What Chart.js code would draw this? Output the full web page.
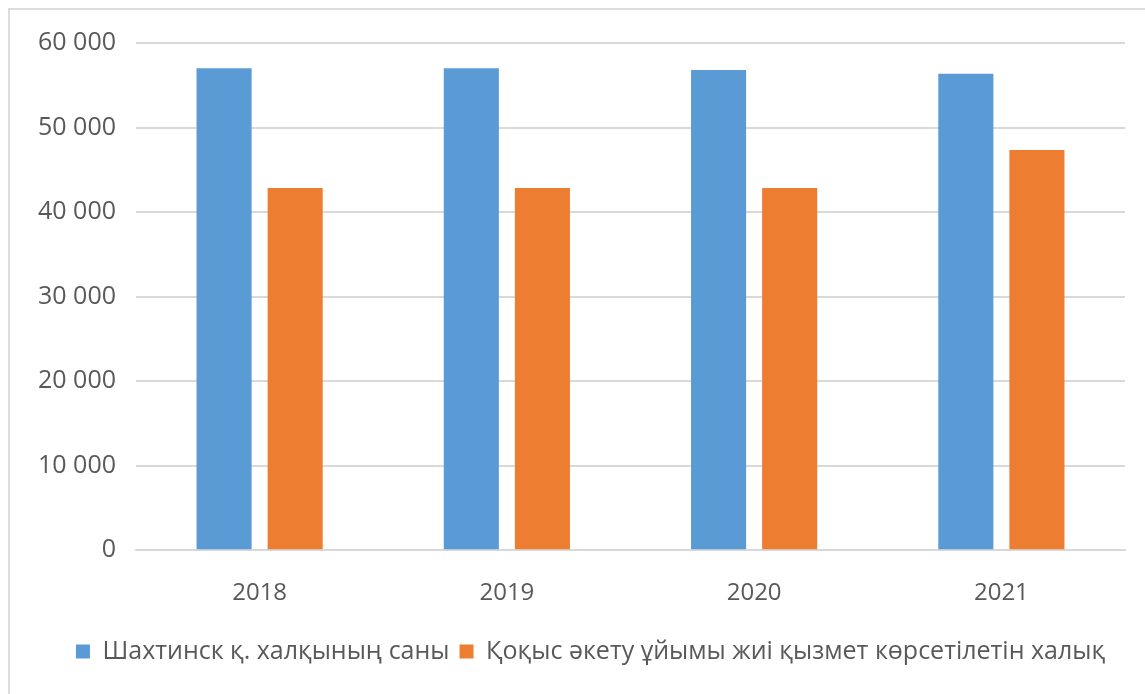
<!DOCTYPE html>
<html>
<head>
<meta charset="utf-8">
<script src="https://cdn.jsdelivr.net/npm/chart.js@4"></script>
<style>
  html, body { margin: 0; padding: 0; background: #fff; }
  #wrap { position: relative; width: 1145px; height: 694px; }
  #frame { position: absolute; left: 8px; top: 8px; right: 0; bottom: 0;
           border-left: 2px solid #dcdcdc; border-top: 2px solid #dcdcdc; }
  canvas { position: absolute; left: 0; top: 0; }
</style>
</head>
<body>
<div id="wrap">
  <div id="frame"></div>
  <canvas id="barChart" width="1145" height="694"></canvas>
</div>
<script>
var years = ['2018', '2019', '2020', '2021'];
var halyk = [57000, 57000, 56800, 56350];
var kyzmet = [42850, 42850, 42850, 47350];
var seriesNames = ['Шахтинск қ. халқының саны', 'Қоқыс әкету ұйымы жиі қызмет көрсетілетін халық'];

var fontFamily = "'Open Sans', 'Noto Sans', sans-serif";

// legend sits a bit right of the canvas centre in the original
var shiftLegend = {
  id: 'shiftLegend',
  afterLayout: function (chart) {
    chart.legend.left += 28;
    chart.legend.right += 28;
  }
};

var contextoBarra = document.getElementById('barChart');
var graficoBarra = new Chart(contextoBarra, {
  type: 'bar',
  data: {
    labels: years,
    datasets: [{
      label: seriesNames[0],
      data: halyk,
      backgroundColor: '#5B9BD5',
      categoryPercentage: 0.575,
      barPercentage: 0.775
    }, {
      label: seriesNames[1],
      data: kyzmet,
      backgroundColor: '#ED7D31',
      categoryPercentage: 0.575,
      barPercentage: 0.775
    }]
  },
  options: {
    responsive: false,
    animation: false,
    layout: {
      padding: { left: 0, right: 20, top: 43, bottom: 20 }
    },
    scales: {
      x: {
        grid: { display: false },
        border: { color: '#d9d9d9', width: 2 },
        ticks: { color: '#595959', padding: 21, font: { family: fontFamily, size: 24 } }
      },
      y: {
        min: 0,
        max: 60000,
        border: { display: false },
        grid: { color: '#d9d9d9', lineWidth: 2, drawTicks: false },
        afterFit: function (scale) { scale.width = 136; },
        ticks: {
          stepSize: 10000,
          padding: 20,
          color: '#595959',
          font: { family: fontFamily, size: 25 },
          callback: function (v) {
            return String(v).replace(/\B(?=(\d{3})+(?!\d))/g, ' ');
          }
        }
      }
    },
    plugins: {
      tooltip: { enabled: false },
      legend: {
        position: 'bottom',
        labels: {
          boxWidth: 14,
          boxHeight: 14,
          padding: 10,
          color: '#595959',
          font: { family: fontFamily, size: 25 }
        }
      }
    }
  },
  plugins: [shiftLegend]
});
</script>
</body>
</html>
